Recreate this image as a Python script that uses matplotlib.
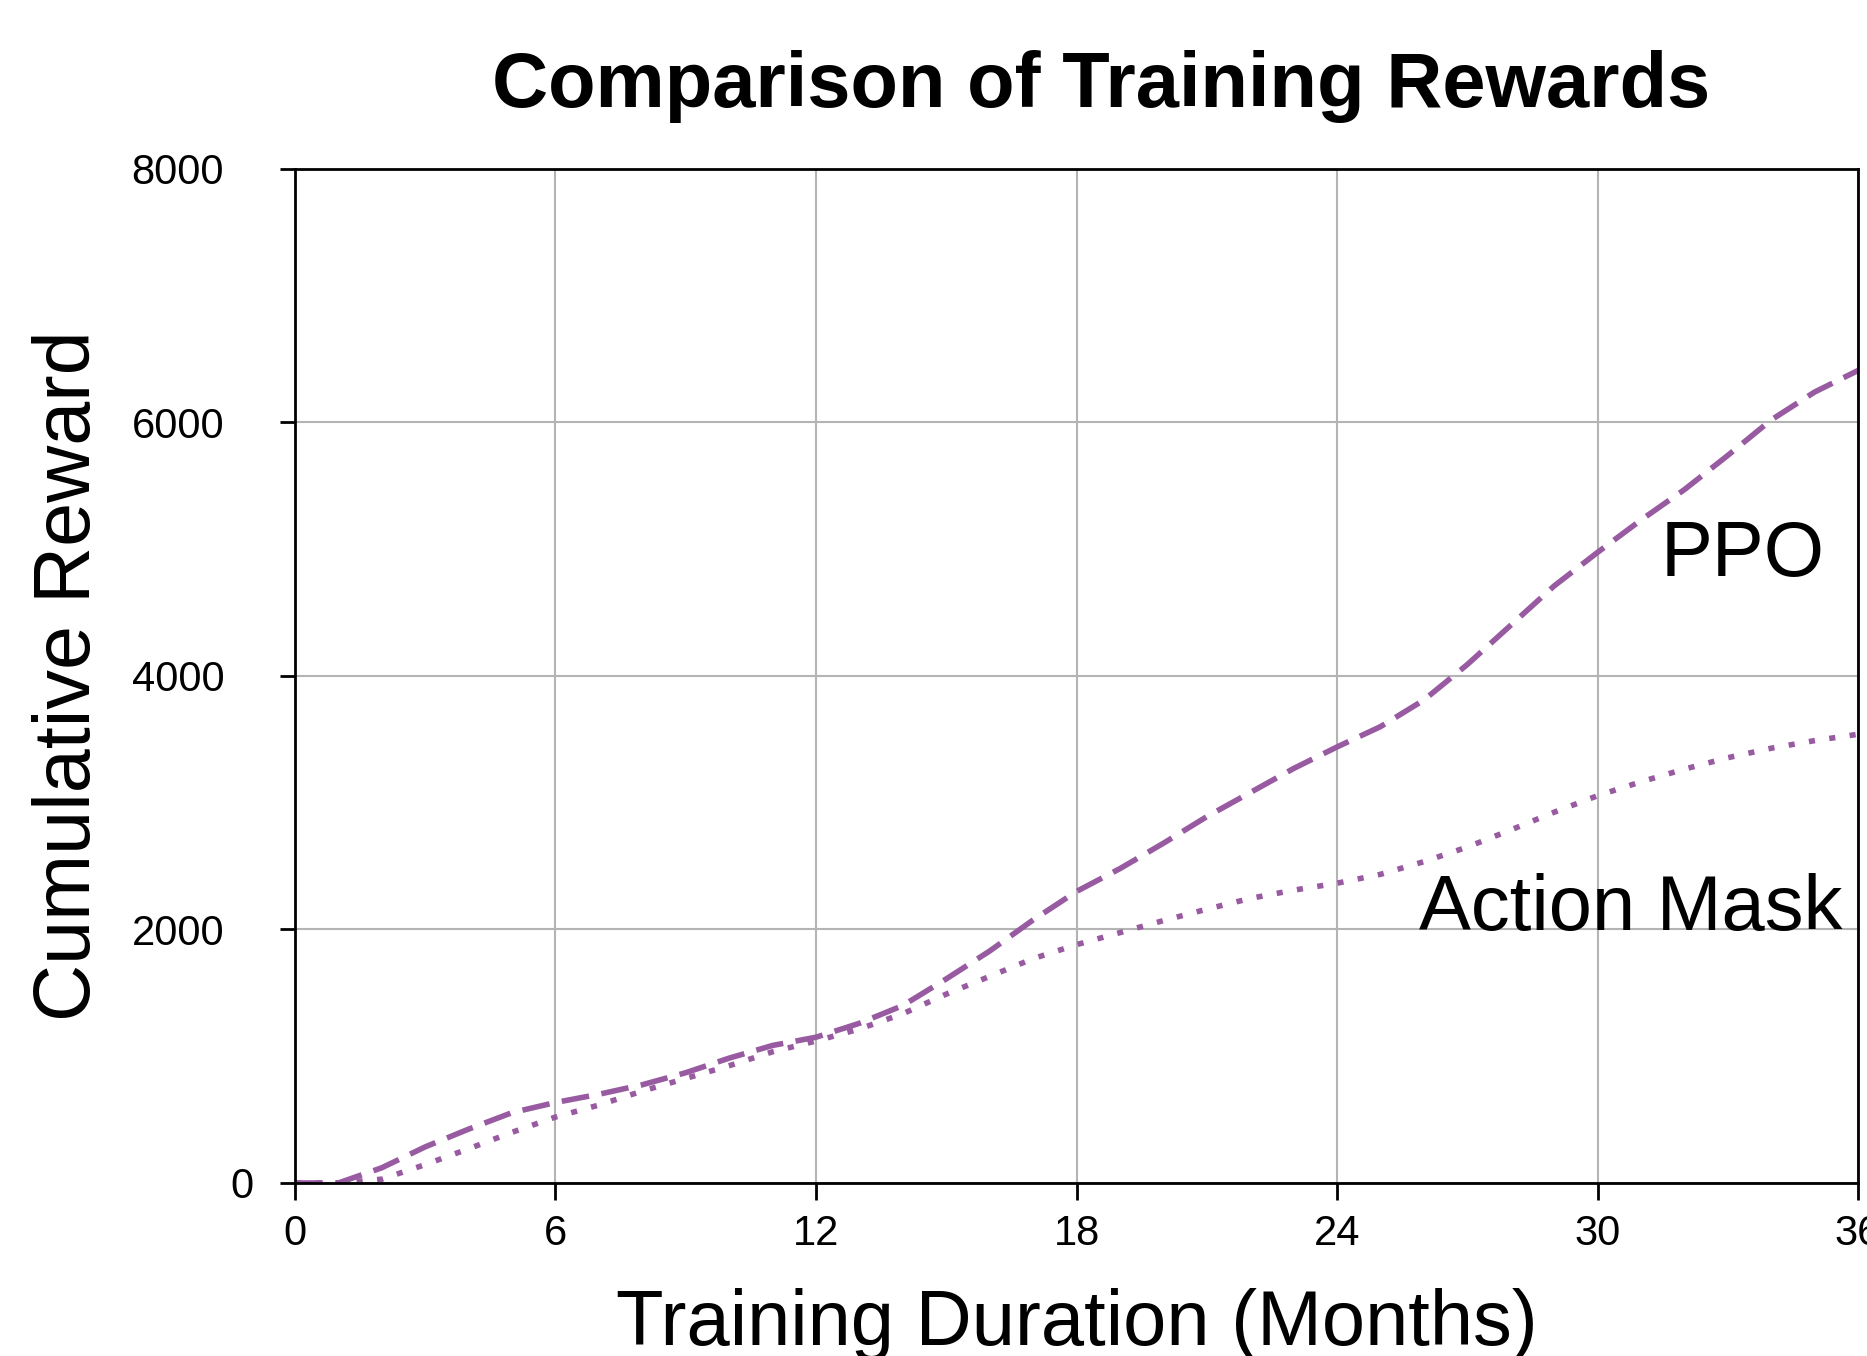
import matplotlib
matplotlib.use('Agg')
import matplotlib.pyplot as plt

# data (months 0..36)
months = list(range(37))
ppo = [0, 0, 120, 285, 425, 555, 635, 700, 775, 870, 985, 1085, 1150, 1260, 1400, 1610,
       1830, 2075, 2300, 2480, 2680, 2890, 3080, 3270, 3440, 3600, 3810, 4090, 4400, 4710,
       4975, 5230, 5470, 5740, 6020, 6240, 6410]
action_mask = [0, 0, 30, 145, 270, 400, 520, 615, 725, 825, 925, 1035, 1120, 1215, 1335, 1490,
               1630, 1770, 1880, 1975, 2070, 2160, 2245, 2310, 2365, 2435, 2535, 2650, 2785, 2925,
               3055, 3165, 3265, 3355, 3430, 3490, 3540]
xticks = [0, 6, 12, 18, 24, 30, 36]
yticks = [0, 2000, 4000, 6000, 8000]

plt.rcParams['font.family'] = ['Liberation Sans', 'DejaVu Sans']
purple = '#985aa0'

fig = plt.figure(figsize=(18.67, 13.56), dpi=100)
ax = fig.add_axes([0.158, 0.1276, 0.8372, 0.7478])

ax.plot(months, action_mask, color=purple, lw=4, linestyle=(0, (1.1, 2.6)))
ax.plot(months, ppo, color=purple, lw=4, linestyle=(0, (5.0, 2.25)))

ax.set_xlim(0, 36); ax.set_ylim(0, 8000)
ax.set_xticks(xticks); ax.set_yticks(yticks)
ax.grid(True, color='#b4b4b4', lw=1.5)
ax.set_axisbelow(True)
for s in ax.spines.values():
    s.set_linewidth(2); s.set_color('black')
ax.tick_params(axis='x', length=12, width=2, labelsize=30, pad=10)
ax.tick_params(axis='y', length=11, width=2, labelsize=30, pad=40)
ax.yaxis.get_major_ticks()[0].set_pad(19)

ax.text(35.24, 4789, 'PPO', fontsize=56, ha='right', va='baseline')
ax.text(35.63, 1996, 'Action Mask', fontsize=56, ha='right', va='baseline')

ax.set_xlabel('Training Duration (Months)', fontsize=56, labelpad=25)
ax.set_ylabel('Cumulative Reward', fontsize=57, labelpad=18)
fig.text(0.59, 1 - 107/1356, 'Comparison of Training Rewards', fontsize=56, weight='bold',
         ha='center', va='baseline')

plt.savefig('out.png', dpi=100)
